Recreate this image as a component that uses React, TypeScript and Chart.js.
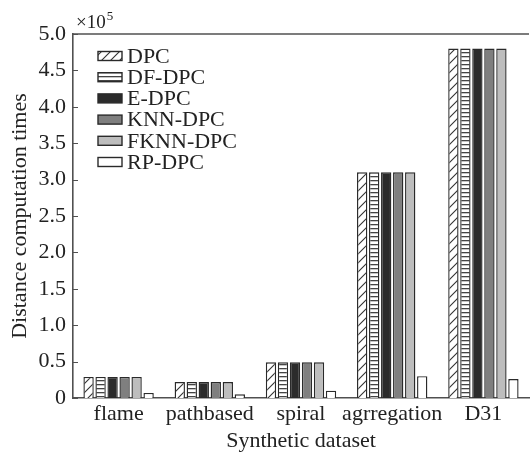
import React, { useEffect, useRef } from "react";
import { Chart, registerables } from "chart.js";

Chart.register(...registerables);

const categories = ["flame", "pathbased", "spiral", "agrregation", "D31"];
const seriesNames = ["DPC", "DF-DPC", "E-DPC", "KNN-DPC", "FKNN-DPC", "RP-DPC"];
const dpc = [0.29, 0.22, 0.49, 3.1, 4.8];
const dfDpc = [0.29, 0.22, 0.49, 3.1, 4.8];
const eDpc = [0.29, 0.22, 0.49, 3.1, 4.8];
const knnDpc = [0.29, 0.22, 0.49, 3.1, 4.8];
const fknnDpc = [0.29, 0.22, 0.49, 3.1, 4.8];
const rpDpc = [0.07, 0.05, 0.1, 0.3, 0.26];
const yTicks = [0, 0.5, 1, 1.5, 2, 2.5, 3, 3.5, 4, 4.5, 5];

const FONT = "'Liberation Serif', 'DejaVu Serif', serif";
const FS = 22;
const AXIS = "#505050";
const EDGE = "#2a2a2a";

function makeDiag(ctx: CanvasRenderingContext2D): CanvasPattern | string {
  const s = 9;
  const c = document.createElement("canvas");
  c.width = s;
  c.height = s;
  const g = c.getContext("2d")!;
  g.fillStyle = "#ffffff";
  g.fillRect(0, 0, s, s);
  g.strokeStyle = "#333333";
  g.lineWidth = 1.1;
  g.beginPath();
  g.moveTo(-1, s + 1);
  g.lineTo(s + 1, -1);
  g.moveTo(-2, 2);
  g.lineTo(2, -2);
  g.moveTo(s - 2, s + 2);
  g.lineTo(s + 2, s - 2);
  g.stroke();
  return ctx.createPattern(c, "repeat") || "#fff";
}

function makeHoriz(ctx: CanvasRenderingContext2D): CanvasPattern | string {
  const c = document.createElement("canvas");
  c.width = 4;
  c.height = 4;
  const g = c.getContext("2d")!;
  g.fillStyle = "#ffffff";
  g.fillRect(0, 0, 4, 4);
  g.fillStyle = "#444444";
  g.fillRect(0, 0, 4, 1.3);
  return ctx.createPattern(c, "repeat") || "#fff";
}

export default function App() {
  const ref = useRef<HTMLCanvasElement | null>(null);

  useEffect(() => {
    const canvas = ref.current;
    if (!canvas) return;
    const ctx = canvas.getContext("2d")!;
    const fills: (CanvasPattern | string)[] = [
      makeDiag(ctx),
      makeHoriz(ctx),
      "#2b2b2b",
      "#7f7f7f",
      "#bdbdbd",
      "#ffffff",
    ];
    const values = [dpc, dfDpc, eDpc, knnDpc, fknnDpc, rpDpc];

    const framePlugin = {
      id: "frame",
      afterDraw(chart: any) {
        const c = chart.ctx as CanvasRenderingContext2D;
        const { left, right, top } = chart.chartArea;
        const y = chart.scales.y;
        c.save();
        // top border
        c.strokeStyle = AXIS;
        c.lineWidth = 1.6;
        c.beginPath();
        c.moveTo(left, top);
        c.lineTo(right, top);
        c.stroke();
        // inward ticks
        c.lineWidth = 1.2;
        c.beginPath();
        for (const v of yTicks) {
          const py = Math.round(y.getPixelForValue(v)) + 0.5;
          c.moveTo(left, py);
          c.lineTo(left + 5, py);
        }
        c.stroke();
        // x10^5 label
        c.fillStyle = "#222";
        c.textBaseline = "alphabetic";
        c.textAlign = "left";
        c.font = `19px ${FONT}`;
        c.fillText("\u00d710", left + 3, top - 6);
        const w = c.measureText("\u00d710").width;
        c.font = `13px ${FONT}`;
        c.fillText("5", left + 3 + w + 1, top - 14);
        // legend
        const bx = left + 25;
        const by0 = top + 22;
        const step = 21.2;
        chart.data.datasets.forEach((ds: any, i: number) => {
          const cy = by0 + i * step;
          c.fillStyle = ds.backgroundColor;
          c.fillRect(bx, cy - 4.5, 24, 9);
          c.strokeStyle = EDGE;
          c.lineWidth = 1.4;
          c.strokeRect(bx, cy - 4.5, 24, 9);
          c.fillStyle = "#222";
          c.font = `${FS}px ${FONT}`;
          c.textBaseline = "middle";
          c.fillText(ds.label, bx + 29, cy + 1);
        });
        c.restore();
      },
    };

    const chart = new Chart(canvas, {
      type: "bar",
      data: {
        labels: categories,
        datasets: seriesNames.map((name, i) => ({
          label: name,
          data: values[i],
          backgroundColor: fills[i] as any,
          borderColor: EDGE,
          borderWidth: 1.4,
          borderSkipped: "bottom" as const,
          categoryPercentage: 0.79,
          barPercentage: 0.86,
        })),
      },
      options: {
        animation: false,
        responsive: false,
        devicePixelRatio: 1,
        layout: { padding: { top: 34, right: 1, left: 0, bottom: 0 } },
        plugins: {
          legend: { display: false },
          tooltip: { enabled: false },
        },
        scales: {
          x: {
            grid: { display: false, drawTicks: false },
            border: { display: true, color: AXIS, width: 1.6 },
            ticks: {
              color: "#222",
              font: { family: FONT, size: FS },
              padding: 3,
              maxRotation: 0,
              autoSkip: false,
            },
            title: {
              display: true,
              text: "Synthetic dataset",
              color: "#222",
              font: { family: FONT, size: FS },
              padding: { top: 0, bottom: 1 },
            },
            afterFit(scale: any) {
              scale.height = 57;
            },
          },
          y: {
            min: 0,
            max: 5,
            grid: { display: false, drawTicks: false },
            border: { display: true, color: AXIS, width: 1.6 },
            afterBuildTicks(scale: any) {
              scale.ticks = yTicks.map((v) => ({ value: v }));
            },
            ticks: {
              color: "#222",
              font: { family: FONT, size: FS },
              padding: 7,
              callback: (v: any) => (Number(v) === 0 ? "0" : Number(v).toFixed(1)),
            },
            title: {
              display: true,
              text: "Distance computation times",
              color: "#222",
              font: { family: FONT, size: FS },
              padding: { top: 7, bottom: 0 },
            },
            afterFit(scale: any) {
              scale.width = 73;
            },
          },
        },
      },
      plugins: [framePlugin],
    });
    return () => chart.destroy();
  }, []);

  return (
    <div style={{ position: "absolute", left: 0, top: 0, width: 530, height: 455, background: "#fff" }}>
      <canvas ref={ref} width={530} height={455} style={{ width: 530, height: 455, display: "block" }} />
    </div>
  );
}
